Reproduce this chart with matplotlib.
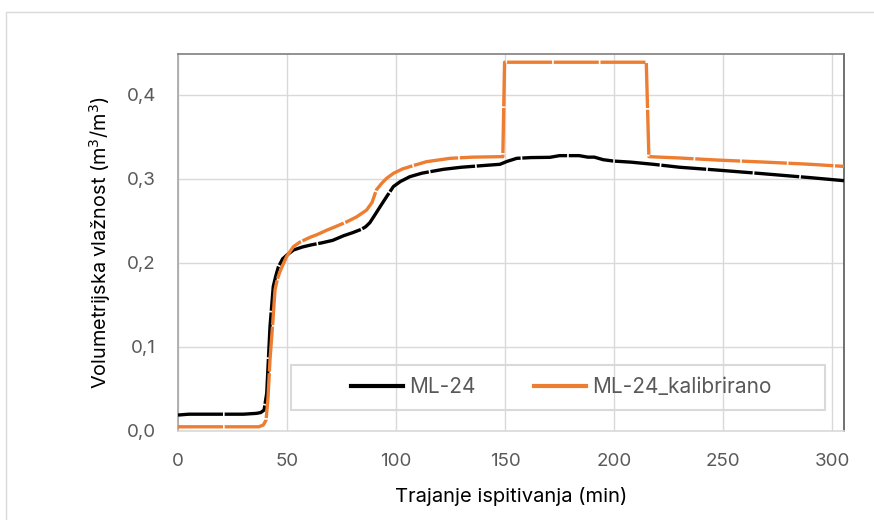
import matplotlib

matplotlib.use("Agg")
import matplotlib.pyplot as plt
from matplotlib.patches import Rectangle
from matplotlib.ticker import FuncFormatter, MultipleLocator

plt.rcParams["font.family"] = ["Inter", "DejaVu Sans"]

# ML-24 (raw sensor)
ml24_t = [0, 5, 10, 20, 30, 36, 38, 39.5, 40.7, 42.2, 43.7, 44.8, 46, 48, 50,
          53, 57, 61, 66, 71, 76, 80, 84, 86, 88, 90.5, 92.7, 95.7, 98.8, 102,
          106.4, 112, 121.7, 130, 140, 147.7, 151, 155.4, 162, 170.6, 175, 184,
          188, 191, 195, 199.6, 208, 218, 230, 247, 265, 290, 305.5]
ml24_v = [0.019, 0.020, 0.020, 0.020, 0.020, 0.021, 0.022, 0.025, 0.045, 0.124,
          0.172, 0.184, 0.195, 0.205, 0.2095, 0.2155, 0.219, 0.2215, 0.224,
          0.227, 0.2325, 0.236, 0.240, 0.243, 0.248, 0.258, 0.267, 0.279,
          0.291, 0.297, 0.3028, 0.307, 0.3115, 0.314, 0.316, 0.3175, 0.321,
          0.3246, 0.3255, 0.3258, 0.3278, 0.3278, 0.326, 0.326, 0.323, 0.3214,
          0.320, 0.3175, 0.314, 0.3107, 0.307, 0.3016, 0.298]

# ML-24 calibrated
cal_t = [0, 10, 20, 30, 37, 39.1, 40.4, 41.3, 42.2, 43.5, 44.5, 45.5, 46.8,
         48.5, 49.8, 52.9, 56, 60.6, 64, 68.2, 72, 77.4, 82, 86.5, 89, 91,
         93.5, 95.7, 98.8, 103, 108, 114, 124.8, 135, 149.0, 149.8, 180,
         214.8, 216.0, 230, 247, 270, 290, 305.5]
cal_v = [0.005, 0.005, 0.005, 0.005, 0.005, 0.007, 0.013, 0.04, 0.085, 0.13,
         0.168, 0.18, 0.19, 0.200, 0.2075, 0.2194, 0.225, 0.2306, 0.234, 0.239,
         0.243, 0.249, 0.255, 0.263, 0.272, 0.287, 0.295, 0.3008, 0.3067,
         0.312, 0.316, 0.3206, 0.3246, 0.326, 0.3266, 0.439, 0.439, 0.439,
         0.3266, 0.325, 0.3226, 0.320, 0.3175, 0.315]

labels = ["ML-24", "ML-24_kalibrirano"]
colors = ["#000000", "#ED7D31"]

fig = plt.figure(figsize=(8.74, 5.20), dpi=100)
ax = fig.add_axes([178 / 874, 89 / 520, 666 / 874, 377 / 520])

# outer chart border
fig.patches.append(Rectangle((6 / 874, -0.1), 1.1, (508 + 52) / 520,
                             transform=fig.transFigure, fill=False,
                             edgecolor="#D9D9D9", lw=1))

dash = (0, (13.5, 0.5))
ax.plot(ml24_t, ml24_v, color=colors[0], lw=2.4, linestyle=dash,
        label=labels[0], zorder=3)
ax.plot(cal_t, cal_v, color=colors[1], lw=2.4, linestyle=dash,
        label=labels[1], zorder=3)

ax.set_xlim(0, 305.5)
ax.set_ylim(0, 0.4488)
ax.xaxis.set_major_locator(MultipleLocator(50))
ax.yaxis.set_major_locator(MultipleLocator(0.1))
ax.yaxis.set_major_formatter(FuncFormatter(lambda v, p: f"{v:.1f}".replace(".", ",")))
ax.grid(True, color="#D9D9D9", lw=1)
ax.set_axisbelow(True)
ax.tick_params(length=0, labelsize=13.5, labelcolor="#595959")
ax.tick_params(axis="y", pad=16)
ax.tick_params(axis="x", pad=16)

for side, c in [("top", "#7F7F7F"), ("right", "#595959"),
                ("left", "#A6A6A6"), ("bottom", "#D9D9D9")]:
    ax.spines[side].set_color(c)
    ax.spines[side].set_linewidth(1.2)

ax.set_xlabel("Trajanje ispitivanja (min)", fontsize=14.5, color="#000000")
ax.set_ylabel("Volumetrijska vlažnost (m$^3$/m$^3$)", fontsize=14.3,
              color="#000000")
ax.xaxis.set_label_coords(0.5, -0.148)
ax.yaxis.set_label_coords(-0.098, 0.5)

# legend box (fixed size, contents centred inside, no fill)
ax.add_patch(Rectangle((0.169, 0.0557), 0.802, 0.1194, transform=ax.transAxes,
                       fill=False, edgecolor="#D9D9D9", lw=1.5, zorder=4))
leg = ax.legend(loc="center", bbox_to_anchor=(0.5758, 0.1154), ncol=2,
                fontsize=15, frameon=False, handlelength=2.5,
                columnspacing=2.8, handletextpad=0.3, borderaxespad=0)
for line in leg.get_lines():
    line.set_linestyle("-")
    line.set_linewidth(3)
for t in leg.get_texts():
    t.set_color("#595959")

fig.savefig("out.png", dpi=100)
